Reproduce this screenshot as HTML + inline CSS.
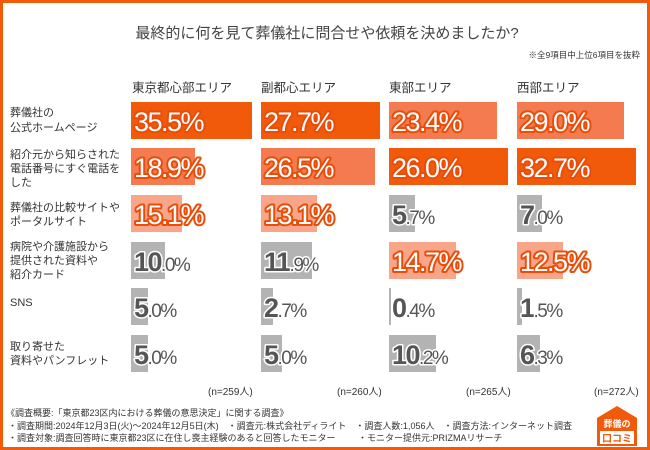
<!DOCTYPE html>
<html><head><meta charset="utf-8"><style>
html,body{margin:0;padding:0;background:#fff}
svg{display:block}
text{font-family:"Liberation Sans","Noto Sans CJK JP",sans-serif}
.lab{font-size:11px;fill:#333}
.hd{font-size:12.5px;fill:#333}
.n{font-size:10px;fill:#333}
.ft{font-size:9px;fill:#333}
.big{font-size:27px;font-weight:bold;stroke-width:3px;paint-order:stroke;letter-spacing:-1.5px;stroke-linejoin:round}
.o{fill:#fff;stroke:#e84e0a;font-weight:normal;stroke-width:4px}
.g{fill:#555;stroke:#fff}
.sm{font-size:19px;font-weight:normal}
</style></head><body>
<svg width="650" height="450" viewBox="0 0 650 450">
<rect x="1.5" y="1.5" width="647" height="447" fill="#fff" stroke="#f05a0a" stroke-width="3"/>
<text x="327" y="38" text-anchor="middle" style="font-size:15px;fill:#444">最終的に何を見て葬儀社に問合せや依頼を決めましたか?</text>
<text x="640" y="58" text-anchor="end" style="font-size:8.5px;fill:#333">※全9項目中上位6項目を抜粋</text>
<text class="hd" x="132" y="92">東京都心部エリア</text>
<text class="hd" x="261" y="92">副都心エリア</text>
<text class="hd" x="389" y="92">東部エリア</text>
<text class="hd" x="517" y="92">西部エリア</text>
<text class="lab" x="10" y="116">葬儀社の</text><text class="lab" x="10" y="131">公式ホームページ</text>
<text class="lab" x="10" y="158">紹介元から知らされた</text><text class="lab" x="10" y="172">電話番号にすぐ電話を</text><text class="lab" x="10" y="186">した</text>
<text class="lab" x="10" y="211">葬儀社の比較サイトや</text><text class="lab" x="10" y="225">ポータルサイト</text>
<text class="lab" x="10" y="250">病院や介護施設から</text><text class="lab" x="10" y="264">提供された資料や</text><text class="lab" x="10" y="278">紹介カード</text>
<text class="lab" x="10" y="306">SNS</text>
<text class="lab" x="10" y="350">取り寄せた</text><text class="lab" x="10" y="364">資料やパンフレット</text>
<rect x="131" y="102" width="121" height="37" fill="#f05a0a"/><text x="134" y="131" class="big o">35.5%</text>
<rect x="131" y="148" width="64" height="37" fill="#f47a50"/><text x="134" y="177" class="big o">18.9%</text>
<rect x="131" y="195" width="51" height="37" fill="#f8a58a"/><text x="134" y="224" class="big o">15.1%</text>
<rect x="131" y="242" width="34" height="37" fill="#b3b3b3"/><text x="134" y="271" class="big g">10<tspan class="sm">.0%</tspan></text>
<rect x="131" y="288" width="17" height="37" fill="#b3b3b3"/><text x="134" y="317" class="big g">5<tspan class="sm">.0%</tspan></text>
<rect x="131" y="335" width="17" height="37" fill="#b3b3b3"/><text x="134" y="364" class="big g">5<tspan class="sm">.0%</tspan></text>
<rect x="261" y="102" width="119" height="37" fill="#f05a0a"/><text x="264" y="131" class="big o">27.7%</text>
<rect x="261" y="148" width="114" height="37" fill="#f47a50"/><text x="264" y="177" class="big o">26.5%</text>
<rect x="261" y="195" width="56" height="37" fill="#f8a58a"/><text x="264" y="224" class="big o">13.1%</text>
<rect x="261" y="242" width="51" height="37" fill="#b3b3b3"/><text x="264" y="271" class="big g">11<tspan class="sm">.9%</tspan></text>
<rect x="261" y="288" width="12" height="37" fill="#b3b3b3"/><text x="264" y="317" class="big g">2<tspan class="sm">.7%</tspan></text>
<rect x="261" y="335" width="21" height="37" fill="#b3b3b3"/><text x="264" y="364" class="big g">5<tspan class="sm">.0%</tspan></text>
<rect x="389" y="102" width="108" height="37" fill="#f47a50"/><text x="392" y="131" class="big o">23.4%</text>
<rect x="389" y="148" width="119" height="37" fill="#f05a0a"/><text x="392" y="177" class="big o">26.0%</text>
<rect x="389" y="195" width="26" height="37" fill="#b3b3b3"/><text x="392" y="224" class="big g">5<tspan class="sm">.7%</tspan></text>
<rect x="389" y="242" width="67" height="37" fill="#f8a58a"/><text x="392" y="271" class="big o">14.7%</text>
<rect x="389" y="288" width="2" height="37" fill="#b3b3b3"/><text x="392" y="317" class="big g">0<tspan class="sm">.4%</tspan></text>
<rect x="389" y="335" width="47" height="37" fill="#b3b3b3"/><text x="392" y="364" class="big g">10<tspan class="sm">.2%</tspan></text>
<rect x="517" y="102" width="107" height="37" fill="#f47a50"/><text x="520" y="131" class="big o">29.0%</text>
<rect x="517" y="148" width="119" height="37" fill="#f05a0a"/><text x="520" y="177" class="big o">32.7%</text>
<rect x="517" y="195" width="25" height="37" fill="#b3b3b3"/><text x="520" y="224" class="big g">7<tspan class="sm">.0%</tspan></text>
<rect x="517" y="242" width="46" height="37" fill="#f8a58a"/><text x="520" y="271" class="big o">12.5%</text>
<rect x="517" y="288" width="5" height="37" fill="#b3b3b3"/><text x="520" y="317" class="big g">1<tspan class="sm">.5%</tspan></text>
<rect x="517" y="335" width="23" height="37" fill="#b3b3b3"/><text x="520" y="364" class="big g">6<tspan class="sm">.3%</tspan></text>
<text class="n" x="208" y="395">(n=259人)</text>
<text class="n" x="337" y="395">(n=260人)</text>
<text class="n" x="466" y="395">(n=265人)</text>
<text class="n" x="594" y="395">(n=272人)</text>
<text class="ft" x="6" y="416">《調査概要:「東京都23区内における葬儀の意思決定」に関する調査》</text>
<text class="ft" x="8" y="429">・調査期間:2024年12月3日(火)～2024年12月5日(木)　・調査元:株式会社ディライト　・調査人数:1,056人　・調査方法:インターネット調査</text>
<text class="ft" x="8" y="441">・調査対象:調査回答時に東京都23区に在住し喪主経験のあると回答したモニター</text>
<text class="ft" x="358" y="441">・モニター提供元:PRIZMAリサーチ</text>
<g>
<path d="M597 418 L617 406 L637 418 L637 446 L597 446 Z" fill="#f05a0a"/>
<text x="617" y="427" text-anchor="middle" style="font-size:9px;font-weight:bold;fill:#fff">葬儀の</text>
<rect x="600" y="431" width="34" height="13" fill="#fff"/>
<text x="617" y="442" text-anchor="middle" style="font-size:10px;font-weight:bold;fill:#f05a0a">口コミ</text>
</g>
</svg>
</body></html>
